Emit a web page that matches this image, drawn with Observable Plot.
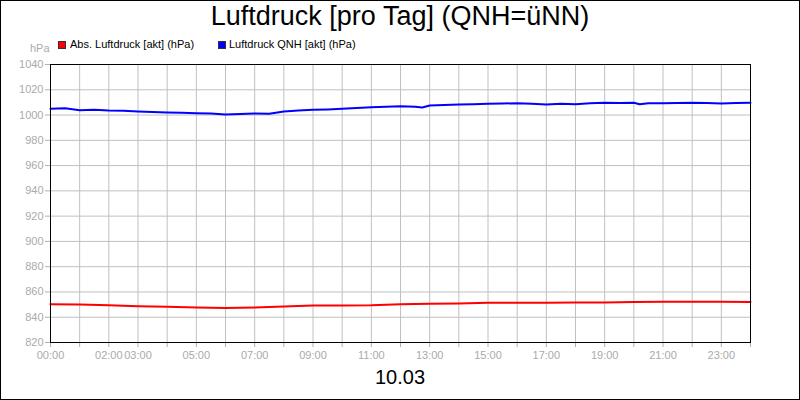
<!DOCTYPE html>
<html><head><meta charset="utf-8">
<script src="https://cdn.jsdelivr.net/npm/d3@7"></script>
<script src="https://cdn.jsdelivr.net/npm/@observablehq/plot@0.6"></script>
<style>
html,body{margin:0;padding:0;background:#fff;}
#wrap{position:relative;width:800px;height:400px;font-family:"Liberation Sans",Arial,sans-serif;overflow:hidden;}
#border{position:absolute;left:0;top:0;width:800px;height:400px;box-sizing:border-box;border:1px solid #000;pointer-events:none;}
.t{position:absolute;white-space:nowrap;}
#title{left:0;width:800px;top:1px;text-align:center;font-size:27px;color:#000;}
#date{left:0;width:800px;top:366px;text-align:center;font-size:20px;color:#000;}
#unit{left:30px;top:42px;font-size:11px;color:#aaa;}
.sw{position:absolute;width:6px;height:6px;border:1px solid #333;}
.lg{font-size:11px;color:#000;top:38px;}
svg{position:absolute;left:0;top:0;}
</style></head>
<body><div id="wrap">
<div id="chart"></div>
<div class="t" id="title">Luftdruck [pro Tag] (QNH=üNN)</div>
<div class="t" id="unit">hPa</div>
<div class="sw" style="left:58px;top:41px;background:#ff0000"></div>
<div class="t lg" style="left:70px">Abs. Luftdruck [akt] (hPa)</div>
<div class="sw" style="left:218px;top:41px;background:#0000ff"></div>
<div class="t lg" style="left:229px">Luftdruck QNH [akt] (hPa)</div>
<div class="t" id="date">10.03</div>
<div id="border"></div>
</div>
<script>
const seriesNames = ["Abs. Luftdruck [akt] (hPa)", "Luftdruck QNH [akt] (hPa)"];
const qnhHours = [0,0.5,1,1.5,2,2.5,3,3.5,4,4.5,5,5.5,6,6.5,7,7.5,8,8.5,9,9.5,10,10.5,11,11.5,12,12.5,12.75,13,13.5,14,14.5,15,15.5,16,16.5,17,17.5,18,18.5,19,19.5,20,20.2,20.5,21,21.5,22,22.5,23,23.5,24];
const qnhValues = [1005,1005.3,1003.8,1004.1,1003.6,1003.4,1002.8,1002.4,1002,1001.8,1001.5,1001.2,1000.5,1000.9,1001.3,1001,1002.8,1003.6,1004.1,1004.4,1004.9,1005.6,1006.2,1006.6,1007,1006.6,1006,1007.6,1008,1008.3,1008.6,1008.9,1009.1,1009.4,1009,1008.4,1008.9,1008.5,1009.3,1009.7,1009.6,1009.8,1008.6,1009.4,1009.4,1009.6,1009.7,1009.5,1009.1,1009.5,1009.7];
const absHours = [0,1,2,3,4,5,6,7,8,9,10,11,12,13,14,15,16,17,18,19,20,21,22,23,24];
const absValues = [850.3,850.1,849.5,848.7,848.2,847.7,847.4,847.7,848.5,849.3,849.3,849.5,850.3,850.6,850.9,851.4,851.4,851.4,851.7,851.7,852,852.2,852.2,852.2,852];
const labelHours = [0,2,3,5,7,9,11,13,15,17,19,21,23];
const yTicks = [820,840,860,880,900,920,940,960,980,1000,1020,1040];

const qnh = qnhHours.map((h,i)=>({h, v:qnhValues[i]}));
const abs = absHours.map((h,i)=>({h, v:absValues[i]}));
const hourTicks = d3.range(0,25);
const pad = n => String(n).padStart(2,"0")+":00";

const chart = Plot.plot({
  width: 800, height: 400,
  marginLeft: 50, marginRight: 50, marginTop: 64, marginBottom: 58,
  style: {fontFamily: '"Liberation Sans", Arial, sans-serif', fontSize: "11px", background: "transparent"},
  x: {domain: [0,24]},
  y: {domain: [820,1040]},
  marks: [
    Plot.gridX(hourTicks, {stroke: "#c0c0c0", strokeOpacity: 1}),
    Plot.gridY(yTicks, {stroke: "#c0c0c0", strokeOpacity: 1}),
    Plot.axisX(hourTicks, {tickSize: 5, tickPadding: 4, stroke: "#b0b0b0", color: "#aaa",
      tickFormat: d => labelHours.includes(d) ? pad(d) : "", label: null}),
    Plot.axisY(yTicks, {tickSize: 5, tickPadding: 2, stroke: "#b0b0b0", color: "#aaa", label: null,
      tickFormat: d => String(d)}),
    Plot.line(abs, {x: "h", y: "v", stroke: "#ff0000", strokeWidth: 2}),
    Plot.line(qnh, {x: "h", y: "v", stroke: "#0000ff", strokeWidth: 2}),
    Plot.frame({stroke: "#000", strokeOpacity: 1})
  ]
});
document.getElementById("chart").appendChild(chart);
</script>
</body></html>
